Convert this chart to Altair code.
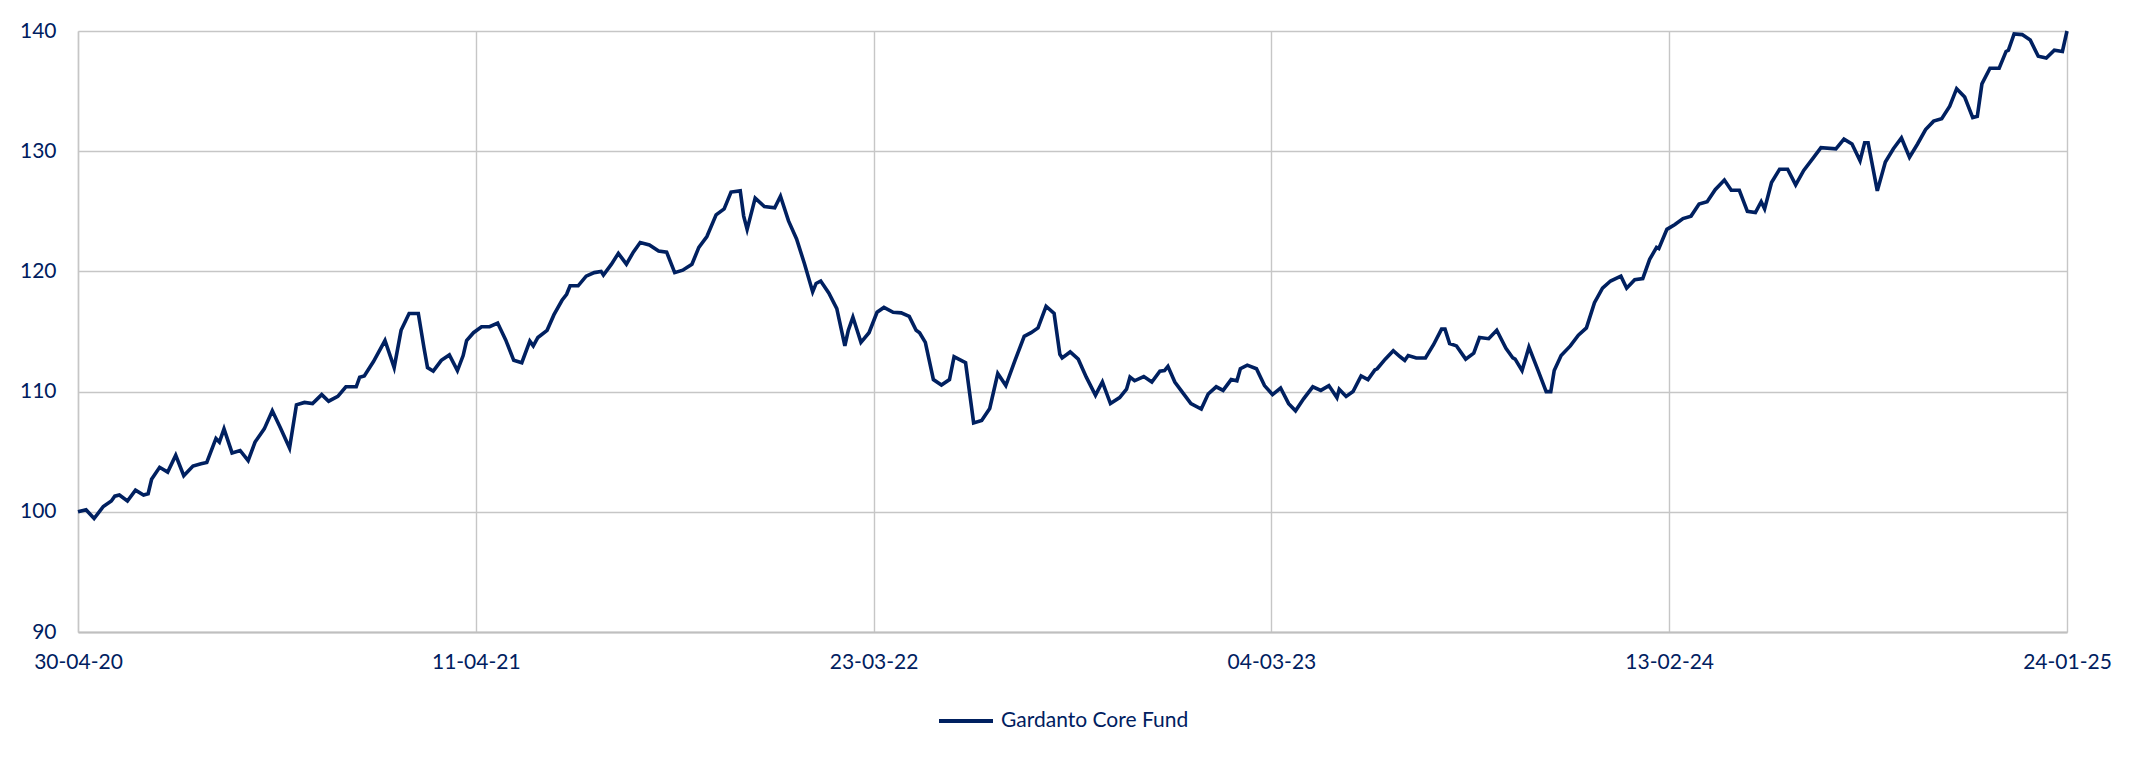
import altair as alt
import pandas as pd

# Days elapsed since 30-04-2020 and fund index value
days = [
    0, 7, 14, 22, 29, 32, 36, 43, 50, 57, 61, 64, 71, 78, 85, 92, 100, 107, 112, 120,
    123, 127, 134, 141, 148, 154, 162, 169, 176, 184, 190, 197, 204, 212, 218, 226, 233, 242, 245, 249,
    257, 267, 275, 281, 288, 296, 301, 304, 309, 316, 323, 330, 335, 338, 344, 351, 358, 365, 372, 379,
    386, 393, 396, 400, 408, 414, 421, 425, 428, 435, 442, 449, 455, 457, 464, 470, 477, 483, 489, 497,
    505, 512, 519, 526, 534, 540, 547, 555, 562, 568, 576, 579, 582, 589, 597, 606, 611, 618, 625, 632,
    639, 642, 646, 653, 660, 667, 670, 674, 681, 688, 695, 701, 709, 716, 723, 729, 732, 737, 744, 751,
    758, 762, 766, 772, 779, 786, 793, 800, 807, 815, 823, 829, 835, 842, 849, 854, 856, 863, 870, 877,
    885, 891, 898, 906, 912, 915, 919, 927, 934, 941, 945, 948, 954, 961, 968, 977, 983, 990, 996, 1003,
    1008, 1011, 1017, 1025, 1032, 1039, 1046, 1053, 1059, 1066, 1074, 1081, 1088, 1095, 1097, 1103, 1109, 1116, 1122, 1128,
    1130, 1137, 1144, 1150, 1154, 1157, 1164, 1172, 1179, 1186, 1189, 1193, 1199, 1207, 1214, 1219, 1227, 1234, 1242, 1248,
    1250, 1256, 1262, 1270, 1277, 1281, 1284, 1290, 1298, 1305, 1312, 1319, 1326, 1333, 1342, 1347, 1354, 1361, 1367, 1373,
    1375, 1382, 1389, 1396, 1403, 1410, 1417, 1424, 1432, 1438, 1445, 1452, 1459, 1464, 1467, 1473, 1480, 1487, 1494, 1501,
    1509, 1516, 1529, 1536, 1543, 1550, 1554, 1557, 1565, 1572, 1579, 1586, 1593, 1600, 1607, 1614, 1621, 1628, 1634, 1641,
    1648, 1652, 1656, 1663, 1671, 1677, 1679, 1684, 1691, 1698, 1705, 1712, 1719, 1726, 1730,
]
values = [
    100.0, 100.17, 99.44, 100.44, 100.9, 101.3, 101.4, 100.9, 101.8, 101.4, 101.5, 102.7, 103.7, 103.3, 104.7, 103.0, 103.8, 104.0, 104.1, 106.1,
    105.8, 106.9, 104.9, 105.1, 104.25, 105.8, 106.9, 108.4, 107.0, 105.3, 108.9, 109.1, 109.0, 109.75, 109.2, 109.6, 110.4, 110.4, 111.2, 111.3,
    112.5, 114.25, 112.0, 115.1, 116.5, 116.5, 113.6, 112.0, 111.7, 112.6, 113.05, 111.75, 113.0, 114.25, 114.9, 115.4, 115.4, 115.7, 114.3, 112.6,
    112.4, 114.2, 113.8, 114.5, 115.1, 116.4, 117.6, 118.1, 118.8, 118.8, 119.6, 119.9, 120.0, 119.7, 120.6, 121.5, 120.6, 121.6, 122.4, 122.2,
    121.7, 121.6, 119.9, 120.1, 120.6, 122.0, 122.9, 124.7, 125.2, 126.6, 126.7, 124.6, 123.5, 126.1, 125.4, 125.3, 126.25, 124.2, 122.7, 120.6,
    118.3, 119.0, 119.2, 118.2, 116.9, 113.8, 115.1, 116.2, 114.1, 114.9, 116.6, 117.0, 116.6, 116.55, 116.25, 115.1, 114.9, 114.1, 111.0, 110.55,
    111.0, 112.9, 112.7, 112.4, 107.4, 107.6, 108.6, 111.5, 110.5, 112.6, 114.6, 114.9, 115.3, 117.1, 116.5, 113.1, 112.8, 113.3, 112.7, 111.2,
    109.7, 110.8, 109.0, 109.5, 110.2, 111.2, 110.9, 111.25, 110.8, 111.7, 111.75, 112.1, 110.8, 109.9, 109.0, 108.55, 109.8, 110.4, 110.1, 111.0,
    110.9, 111.9, 112.2, 111.9, 110.5, 109.75, 110.3, 109.0, 108.4, 109.4, 110.4, 110.1, 110.5, 109.5, 110.2, 109.6, 110.0, 111.3, 111.0, 111.8,
    111.9, 112.7, 113.4, 112.9, 112.6, 113.0, 112.8, 112.8, 113.9, 115.2, 115.2, 114.0, 113.8, 112.7, 113.2, 114.5, 114.4, 115.1, 113.6, 112.8,
    112.7, 111.75, 113.7, 111.75, 110.0, 110.0, 111.75, 113.0, 113.8, 114.7, 115.3, 117.4, 118.6, 119.2, 119.6, 118.6, 119.3, 119.4, 121.0, 122.0,
    121.9, 123.5, 123.9, 124.4, 124.6, 125.6, 125.8, 126.8, 127.6, 126.75, 126.75, 125.0, 124.9, 125.8, 125.2, 127.4, 128.5, 128.5, 127.2, 128.4,
    129.4, 130.3, 130.2, 131.0, 130.6, 129.2, 130.7, 130.7, 126.7, 129.1, 130.2, 131.1, 129.5, 130.6, 131.8, 132.5, 132.7, 133.75, 135.2, 134.5,
    132.8, 132.9, 135.6, 136.9, 136.9, 138.3, 138.4, 139.75, 139.7, 139.25, 137.9, 137.75, 138.4, 138.3, 140.0,
]
series_name = "Gardanto Core Fund"
start_date = "2020-04-30"
tick_dates = ["2020-04-30", "2021-04-11", "2022-03-23", "2023-03-04", "2024-02-13", "2025-01-24"]
y_ticks = [90, 100, 110, 120, 130, 140]

start = pd.Timestamp(start_date)
df = pd.DataFrame({
    "date": [start + pd.Timedelta(days=d) for d in days],
    "value": values,
    "series": series_name,
})


def dt(s):
    t = pd.Timestamp(s)
    return alt.DateTime(year=t.year, month=t.month, date=t.day)


NAVY = "#002060"
GRID = "#c6c6c6"
FONT = "Lato"

chart = alt.Chart(df).mark_line(strokeWidth=3.6, strokeJoin="miter", strokeMiterLimit=4).encode(
    x=alt.X(
        "date:T",
        scale=alt.Scale(domain=[dt(tick_dates[0]), dt(tick_dates[-1])], nice=False),
        axis=alt.Axis(
            values=[dt(s) for s in tick_dates],
            format="%d-%m-%y",
            title=None,
            grid=True,
            gridColor=GRID,
            gridWidth=1.4,
            domain=True,
            domainColor="#bfbfbf",
            domainWidth=2.2,
            ticks=False,
            labelPadding=19,
            labelFlush=False,
            labelOverlap=False,
            labelBound=False,
        ),
    ),
    y=alt.Y(
        "value:Q",
        scale=alt.Scale(domain=[90, 140], nice=False, zero=False),
        axis=alt.Axis(
            values=y_ticks,
            title=None,
            grid=True,
            gridColor=GRID,
            gridWidth=1.4,
            domain=True,
            domainColor=GRID,
            domainWidth=1.4,
            ticks=False,
            labelPadding=22,
        ),
    ),
    color=alt.Color(
        "series:N",
        scale=alt.Scale(range=[NAVY]),
        legend=alt.Legend(
            title=None,
            orient="none",
            legendX=859,
            legendY=661,
            symbolType="stroke",
            symbolSize=2916,
            symbolStrokeWidth=4,
            labelOffset=6,
            labelLimit=0,
            padding=0,
        ),
    ),
).properties(
    width=1989,
    height=601,
    autosize=alt.AutoSizeParams(type="none"),
    padding={"left": 70, "top": 23, "right": 60, "bottom": 115},
).configure_view(
    stroke=None
).configure_axis(
    labelFont=FONT,
    labelFontSize=21,
    labelColor=NAVY,
).configure_legend(
    labelFont=FONT,
    labelFontSize=21,
    labelColor=NAVY,
    labelLimit=0,
)

chart.save("out.html", embed_options={"renderer": "svg", "actions": False})
